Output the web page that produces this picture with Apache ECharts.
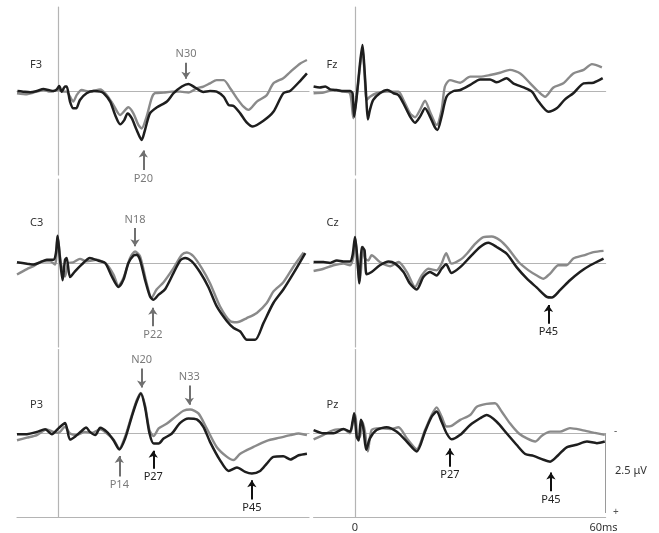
<!DOCTYPE html>
<html>
<head>
<meta charset="utf-8">
<script src="https://cdn.jsdelivr.net/npm/echarts@6/dist/echarts.min.js"></script>
<style>
  html, body { margin: 0; padding: 0; background: #fff; }
  #main { width: 659px; height: 533px; }
</style>
</head>
<body>
<div id="main"></div>
<script>
// waveforms: [ms, µV]  (negative up)
var f3Black = [[-9.9,0],[-8.5,0.02],[-6.8,0.04],[-5.2,0],[-3.6,-0.06],[-2.4,-0.03],[-1.2,0],[-0.4,-0.05],[0.2,-0.16],[0.8,0.02],[1.6,-0.14],[2.0,-0.14],[2.8,0.33],[3.6,0.54],[4.3,0.54],[5.2,0.28],[6.8,0.07],[8.5,0],[10.1,0.02],[10.9,0.07],[12.5,0.33],[13.7,0.75],[14.9,1.04],[15.9,0.91],[16.7,0.70],[17.7,0.85],[18.9,1.22],[20.1,1.53],[20.9,1.22],[22.1,0.70],[23.8,0.51],[26.2,0.33],[27.8,0.07],[29.8,-0.14],[31.4,-0.22],[33.0,-0.11],[35.0,0.03],[36.6,0],[38.2,0.02],[39.9,0.18],[41.1,0.44],[42.3,0.47],[43.9,0.70],[45.5,0.99],[46.9,1.11],[49.5,0.93],[51.9,0.65],[54.3,0.07],[56.0,-0.01],[58.4,-0.32],[60.0,-0.55]];
var f3Gray = [[-10,0.07],[-7.6,0.10],[-6.0,0.05],[-3.6,-0.03],[-2.0,0.02],[0,-0.03],[1.2,0.02],[2.0,0.02],[2.8,0.18],[3.6,0.33],[4.4,0.13],[5.6,-0.03],[7.6,0.02],[10.1,-0.05],[11.7,0.13],[13.3,0.44],[14.9,0.75],[16.9,0.51],[18.1,0.70],[19.3,1.06],[20.1,1.17],[21.3,0.80],[22.5,0.23],[23.3,0.07],[25.4,0.05],[27.4,0.02],[29.4,0.02],[31.4,0.05],[33.4,-0.08],[35.0,-0.14],[36.6,-0.24],[38.2,-0.34],[39.9,-0.34],[41.5,-0.08],[43.1,0.23],[44.7,0.49],[45.9,0.59],[47.9,0.33],[50.3,0.13],[51.9,-0.24],[54.3,-0.40],[56.0,-0.60],[58.4,-0.86],[60.0,-0.97]];

var fzBlack = [[-10,-0.14],[-8.5,-0.11],[-7.2,-0.14],[-6.0,-0.05],[-4.4,-0.03],[-2.8,0],[-1.2,0],[-0.6,0.07],[-0.2,0.80],[0.4,0.18],[1.2,-0.86],[1.8,-1.44],[2.2,-0.86],[2.7,0.18],[3.1,0.89],[3.6,0.59],[4.4,0.28],[6.0,0.07],[7.8,-0.03],[9.3,0.07],[10.5,0.13],[11.7,0.39],[13.3,0.80],[14.5,0.99],[15.7,0.80],[16.9,0.54],[18.1,0.80],[19.3,1.14],[19.9,1.22],[20.9,0.80],[22.1,0.18],[23.8,0],[25.4,-0.03],[27.8,-0.19],[30.2,-0.36],[32.6,-0.36],[34.2,-0.27],[36.6,-0.40],[38.2,-0.24],[40.7,-0.11],[42.7,0.02],[44.3,0.33],[46.7,0.65],[48.7,0.54],[50.7,0.26],[52.7,0.07],[55.2,-0.24],[57.6,-0.26],[59.8,-0.40]];
var fzGray = [[-10,0.07],[-7.6,0.05],[-5.2,-0.03],[-2.8,0.02],[-1.2,0.07],[-0.4,0.85],[0.4,0.18],[1.2,-0.76],[1.8,-1.33],[2.3,-0.55],[2.8,0.28],[3.6,0.18],[5.2,0.07],[7.6,0.02],[10.5,0.02],[11.7,0.28],[13.3,0.70],[14.5,0.82],[15.7,0.59],[16.9,0.30],[18.1,0.65],[19.7,1.06],[20.9,0.59],[21.7,-0.14],[22.9,-0.34],[25.4,-0.26],[27.8,-0.45],[30.2,-0.45],[32.6,-0.50],[35.0,-0.57],[37.4,-0.66],[39.9,-0.55],[42.3,-0.24],[44.3,0.02],[45.9,0.18],[47.9,-0.11],[50.3,-0.24],[52.7,-0.55],[55.2,-0.66],[57.2,-0.84],[59.6,-0.74]];

var c3Black = [[-10,-0.02],[-7.6,0.02],[-6.0,0.05],[-4.4,-0.02],[-2.8,-0.10],[-1.2,-0.10],[-0.6,-0.31],[-0.2,-0.85],[0.4,-0.10],[1.0,0.54],[1.6,-0.10],[2.0,-0.16],[2.8,0.44],[4.0,0.26],[5.6,0.05],[7.6,-0.16],[9.7,-0.07],[11.3,0],[12.9,0.42],[14.5,0.75],[15.7,0.52],[16.9,0],[18.1,-0.23],[18.9,-0.26],[19.7,-0.10],[20.9,0.52],[22.1,1.04],[22.9,1.15],[24.2,0.99],[25.8,0.81],[27.8,0.31],[29.4,-0.08],[30.6,-0.16],[32.2,-0.05],[34.2,0.29],[36.2,0.75],[38.2,1.35],[40.7,1.82],[42.3,2.03],[43.9,2.14],[45.5,2.40],[47.5,2.40],[49.5,1.88],[51.9,1.25],[54.3,0.83],[56.8,0.31],[59.6,-0.31]];
var c3Gray = [[-10,0.36],[-7.6,0.19],[-6.0,0.10],[-4.0,-0.05],[-2.0,-0.05],[-0.8,0.05],[-0.2,-0.83],[0.6,0],[1.6,0.42],[2.4,0],[3.6,-0.02],[5.2,-0.13],[6.8,-0.05],[9.3,-0.10],[11.7,0.05],[13.3,0.36],[14.5,0.71],[15.7,0.47],[17.3,-0.16],[18.5,-0.36],[19.7,-0.21],[21.3,0.63],[22.5,1.09],[23.7,0.83],[25.4,0.60],[27.8,0.16],[29.8,-0.26],[31.0,-0.33],[32.6,-0.21],[34.6,0.16],[36.6,0.63],[39.0,1.35],[41.5,1.82],[43.1,1.85],[45.5,1.72],[47.9,1.56],[50.3,1.25],[51.9,0.89],[54.3,0.60],[56.8,0.10],[59.2,-0.33]];

var czBlack = [[-10,-0.03],[-7.6,-0.03],[-6.0,0],[-4.4,-0.08],[-2.8,-0.05],[-1.2,-0.05],[-0.6,-0.24],[0,-0.81],[0.6,-0.08],[1.0,0.63],[1.7,-0.50],[2.3,-0.40],[2.8,0.35],[4.0,0.28],[6.0,0.07],[8.1,-0.05],[9.7,0.02],[11.7,0.28],[13.3,0.65],[14.9,0.83],[16.5,0.44],[18.1,0.28],[19.7,0.39],[20.9,0.18],[22.0,0.04],[23.3,0.31],[25.4,0.13],[27.8,-0.19],[30.2,-0.50],[32.2,-0.63],[34.2,-0.50],[36.6,-0.29],[39.0,0.13],[41.5,0.49],[43.9,0.77],[46.3,1.06],[47.5,1.08],[49.5,0.85],[51.9,0.54],[54.3,0.28],[56.8,0.07],[60.0,-0.14]];
var czGray = [[-10,0.25],[-7.6,0.18],[-5.2,0.07],[-2.8,0.02],[-1.2,0.07],[-0.4,-0.19],[0.1,-0.76],[0.7,0.13],[1.2,0.54],[1.9,-0.50],[2.4,-0.14],[3.2,-0.08],[4.0,-0.24],[6.0,-0.03],[8.5,0.10],[10.5,-0.03],[12.5,0.28],[14.5,0.75],[16.1,0.39],[17.7,0.18],[19.7,0.23],[20.9,0.02],[22.0,-0.31],[23.3,0.02],[25.4,-0.10],[27.0,-0.29],[29.0,-0.60],[31.0,-0.81],[33.0,-0.83],[35.0,-0.71],[37.0,-0.45],[39.5,-0.03],[41.9,0.23],[43.9,0.39],[45.5,0.49],[47.1,0.33],[49.1,0.07],[51.1,0.07],[52.7,-0.14],[55.2,-0.24],[57.6,-0.34],[60.0,-0.38]];

var p3Black = [[-10,0.02],[-7.6,0.02],[-5.2,-0.05],[-3.2,-0.13],[-1.6,0.02],[0,-0.16],[1.6,-0.33],[2.8,0.19],[4.0,0.10],[5.6,-0.08],[6.7,-0.19],[7.6,-0.05],[8.9,0.05],[10.1,-0.18],[11.7,-0.05],[13.3,0.21],[14.7,0.50],[16.1,0.16],[17.7,-0.52],[18.9,-0.99],[19.9,-1.25],[20.9,-0.83],[22.0,0],[23.0,0.31],[24.2,0.31],[25.4,0.16],[27.4,0],[29.4,-0.33],[31.4,-0.47],[33.4,-0.44],[35.0,-0.21],[36.6,0.26],[39.0,0.83],[41.1,1.17],[43.1,1.06],[45.1,1.20],[46.7,1.25],[48.7,1.17],[50.3,0.94],[51.9,0.73],[54.3,0.71],[56.0,0.81],[58.0,0.68],[60.0,0.63]];
var p3Gray = [[-10,0.21],[-7.6,0.13],[-5.2,0.05],[-2.8,-0.13],[-1.2,-0.05],[0,-0.02],[1.6,-0.21],[2.8,0],[4.4,0.05],[6.4,-0.05],[8.1,-0.02],[10.1,-0.13],[11.7,0],[13.3,0.19],[14.7,0.47],[16.1,0.10],[17.7,-0.57],[18.9,-1.04],[19.9,-1.27],[20.9,-0.89],[22.0,-0.10],[23.0,0.08],[24.2,-0.16],[26.2,-0.31],[28.2,-0.52],[30.2,-0.71],[31.8,-0.75],[33.8,-0.63],[35.8,-0.16],[38.2,0.42],[40.7,0.73],[42.3,0.83],[43.9,0.63],[47.1,0.42],[50.3,0.23],[53.5,0.13],[56.0,0.05],[58.0,0],[60.0,0.05]];

var pzBlack = [[-10,-0.10],[-7.6,0],[-5.2,0],[-2.8,-0.13],[-1.2,-0.05],[-0.6,-0.36],[-0.2,-0.63],[0.4,0.10],[0.9,0.23],[1.4,-0.42],[2.0,-0.16],[2.7,0.52],[3.6,0.16],[5.2,-0.10],[7.6,-0.19],[10.1,-0.05],[12.5,0.26],[14.9,0.57],[16.9,-0.05],[18.5,-0.52],[19.7,-0.68],[20.9,-0.36],[22.1,0],[23.3,0.19],[25.4,0.05],[27.8,-0.26],[30.2,-0.47],[31.8,-0.57],[34.2,-0.36],[36.6,0],[39.0,0.36],[41.1,0.65],[43.1,0.71],[45.5,0.83],[47.1,0.89],[49.1,0.68],[51.1,0.44],[53.5,0.36],[56.0,0.26],[58.4,0.31],[60.3,0.26]];
var pzGray = [[-10,0.19],[-7.6,0.05],[-5.2,-0.10],[-2.8,-0.13],[-1.2,0],[-0.4,-0.42],[0.1,-0.57],[0.6,0.16],[1.2,0.10],[1.8,-0.36],[2.4,-0.05],[3.1,0.57],[4.0,-0.10],[6.0,-0.16],[8.5,-0.13],[10.5,-0.19],[12.5,0.16],[14.9,0.50],[16.9,-0.10],[18.5,-0.57],[19.7,-0.81],[20.9,-0.52],[22.1,-0.21],[23.3,-0.23],[25.4,-0.42],[27.8,-0.57],[29.4,-0.83],[31.8,-0.92],[33.8,-0.94],[35.4,-0.68],[37.4,-0.31],[39.5,0],[41.5,0.16],[43.5,0.26],[45.1,0.08],[47.1,-0.05],[49.5,-0.05],[51.9,-0.16],[54.8,-0.10],[57.6,-0.02],[60.3,0.05]];

// peak markers: [label, ms, tail µV, tip µV, trace]
var f3Peaks = [['N30', 30.8, -0.88, -0.38, 'gray'], ['P20', 20.5, 2.47, 1.86, 'gray']];
var fzPeaks = [];
var c3Peaks = [['N18', 18.5, -1.09, -0.52, 'gray'], ['P22', 22.8, 1.98, 1.40, 'gray'], ['P45', 46.7, 3.20, 2.66, 'black']];
var czPeaks = [['P45', 46.7, 1.90, 1.31, 'black']];
var p3Peaks = [['N20', 20.1, -2.03, -1.44, 'gray'], ['N33', 31.6, -1.50, -0.90, 'gray'], ['P14', 14.7, 1.34, 0.70, 'gray'], ['P27', 22.9, 1.10, 0.54, 'black'], ['P45', 46.7, 2.06, 1.46, 'black']];
var pzPeaks = [['P27', 22.9, 1.05, 0.48, 'black'], ['P45', 47.3, 1.82, 1.23, 'black']];

var scaleBar = 2.5; // µV

var GRAY = '#8a8a8a', BLACK = '#1e1e1e', AXIS = '#b4b4b4';
var font = '"Noto Sans", sans-serif';

var panels = [
  { name: 'F3', black: f3Black, gray: f3Gray, peaks: f3Peaks, left: 17, top: 7 },
  { name: 'Fz', black: fzBlack, gray: fzGray, peaks: fzPeaks, left: 313.6, top: 7 },
  { name: 'C3', black: c3Black, gray: c3Gray, peaks: c3Peaks, left: 17, top: 179 },
  { name: 'Cz', black: czBlack, gray: czGray, peaks: czPeaks, left: 313.6, top: 179 },
  { name: 'P3', black: p3Black, gray: p3Gray, peaks: p3Peaks, left: 17, top: 349.5 },
  { name: 'Pz', black: pzBlack, gray: pzGray, peaks: pzPeaks, left: 313.6, top: 349.5 }
];

var grids = [], xAxes = [], yAxes = [], series = [], graphics = [];

panels.forEach(function (p, i) {
  grids.push({ left: p.left, top: p.top, width: 292, height: 168 });
  xAxes.push({
    type: 'value', gridIndex: i, min: -10, max: 60.5, position: 'bottom',
    axisLine: { show: true, onZero: true, lineStyle: { color: AXIS, width: 1.2 } },
    axisTick: { show: false }, axisLabel: { show: false }, splitLine: { show: false }
  });
  yAxes.push({
    type: 'value', gridIndex: i, min: -2.625, max: 2.625, inverse: true,
    axisLine: { show: true, onZero: true, lineStyle: { color: AXIS, width: 1.2 } },
    axisTick: { show: false }, axisLabel: { show: false }, splitLine: { show: false }
  });

  var markData = p.peaks.map(function (m) {
    var c = m[4] === 'gray' ? '#707070' : '#111';
    return [
      { coord: [m[1], m[2]], name: m[0],
        lineStyle: { color: c },
        label: { color: m[4] === 'gray' ? '#7a7a7a' : '#222' } },
      { coord: [m[1], m[3]] }
    ];
  });

  // amplitude scale bar beside Pz
  if (p.name === 'Pz') {
    markData.push([
      { coord: [60.5, 0], symbol: 'none', lineStyle: { color: '#9a9a9a', width: 1 }, label: { show: false } },
      { coord: [60.5, scaleBar], symbol: 'none' }
    ]);
  }

  series.push({
    type: 'line', xAxisIndex: i, yAxisIndex: i, data: p.gray,
    showSymbol: false, smooth: 0.25, clip: false, silent: true,
    lineStyle: { color: GRAY, width: 2.4 }, z: 2
  });
  series.push({
    type: 'line', xAxisIndex: i, yAxisIndex: i, data: p.black,
    showSymbol: false, smooth: 0.25, clip: false, silent: true,
    lineStyle: { color: BLACK, width: 2.5 }, z: 3,
    markLine: {
      silent: true, animation: false,
      symbol: ['none', 'arrow'], symbolSize: 7,
      lineStyle: { type: 'solid', width: 2 },
      label: { show: true, position: 'start', formatter: '{b}', fontSize: 11, fontFamily: font, distance: 3 },
      data: markData
    }
  });

  graphics.push({
    type: 'text', left: p.left + 13, top: p.top + (i < 2 ? 52 : (i < 4 ? 38 : 50)),
    style: { text: p.name, font: '11px ' + font, fill: '#333' }
  });
});

// bottom time axes
[4, 5].forEach(function (g) {
  xAxes.push({
    type: 'value', gridIndex: g, min: -10, max: 60.5, interval: 10, position: 'bottom',
    axisLine: { show: true, onZero: false, lineStyle: { color: AXIS, width: 1.2 } },
    axisTick: { show: false }, splitLine: { show: false },
    axisLabel: {
      show: g === 5, margin: 5, fontSize: 11, fontFamily: font, color: '#333',
      formatter: function (v) { return v === 0 ? '0' : (v === 60 ? '60ms' : ''); }
    }
  });
});

graphics.push(
  { type: 'text', left: 614, top: 426, style: { text: '-', font: '10px ' + font, fill: '#555' } },
  { type: 'text', left: 613, top: 507, style: { text: '+', font: '10px ' + font, fill: '#555' } },
  { type: 'text', left: 615, top: 465, style: { text: scaleBar + ' μV', font: '11px ' + font, fill: '#333' } }
);

var myChart = echarts.init(document.getElementById('main'), null, { renderer: 'canvas' });
myChart.setOption({
  animation: false,
  backgroundColor: '#fff',
  grid: grids,
  xAxis: xAxes,
  yAxis: yAxes,
  series: series,
  graphic: graphics
});
</script>
</body>
</html>
